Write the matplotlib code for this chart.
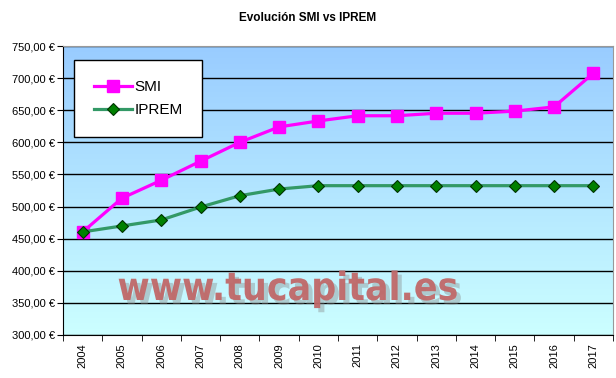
import matplotlib
matplotlib.use("Agg")
import matplotlib.pyplot as plt
import matplotlib.patheffects as pe
import numpy as np
from matplotlib.colors import LinearSegmentedColormap

years = ["2004", "2005", "2006", "2007", "2008", "2009", "2010",
         "2011", "2012", "2013", "2014", "2015", "2016", "2017"]
smi = [460.50, 513.00, 540.90, 570.60, 600.00, 624.00, 633.30,
       641.40, 641.40, 645.30, 645.30, 648.60, 655.20, 707.60]
iprem = [460.50, 469.80, 479.10, 499.20, 516.90, 527.24, 532.51,
         532.51, 532.51, 532.51, 532.51, 532.51, 532.51, 532.51]
yticks = [300, 350, 400, 450, 500, 550, 600, 650, 700, 750]

plt.rcParams['font.family'] = ['Liberation Sans', 'DejaVu Sans']

fig = plt.figure(figsize=(6.16, 3.78), dpi=100)
ax = fig.add_axes([63/616, 1-335/378, 550/616, 289/378])

x = np.arange(len(years))
ax.set_xlim(-0.5, len(years) - 0.5)
ax.set_ylim(300, 750)

# gradient background
cmap = LinearSegmentedColormap.from_list("bg", ["#CCFFFF", "#99CCFF"])
grad = np.linspace(0, 1, 256).reshape(-1, 1)
ax.imshow(grad, extent=[0, 1, 0, 1], transform=ax.transAxes, origin="lower",
          aspect="auto", cmap=cmap, zorder=0)

for yv in yticks:
    ax.axhline(yv, color="black", lw=1.0, zorder=1)

ax.plot(x, smi, color="#FF00FF", lw=2.3, marker="s", ms=9,
        mfc="#FF00FF", mec="#FF00FF", label="SMI", zorder=3)
ax.plot(x, iprem, color="#339966", lw=2.3, marker="D", ms=6.5,
        mfc="#008000", mec="#003300", mew=0.8, label="IPREM", zorder=3)

ax.set_yticks(yticks)
ax.set_yticklabels([f"{v:.2f}".replace(".", ",") + " €" for v in yticks], fontsize=8)
ax.set_xticks(x)
ax.set_xticklabels(years, rotation=90, fontsize=8)
ax.tick_params(axis="x", which="major", length=0, pad=6)
ax.set_xticks(np.arange(-0.5, len(years) + 0.5, 1), minor=True)
ax.tick_params(axis="x", which="minor", length=4, direction="out")
ax.tick_params(axis="y", length=4, direction="out", pad=2)
for s in ax.spines.values():
    s.set_color("black")
    s.set_linewidth(0.8)
ax.spines["top"].set_color("#999999")
ax.spines["right"].set_color("#999999")

leg = ax.legend(loc="upper left", bbox_to_anchor=(11/550, 1-14/289), fontsize=11,
                frameon=True, fancybox=False, edgecolor="black", framealpha=1,
                borderpad=1.3, labelspacing=0.6, handlelength=2.5, handletextpad=0.15,
                borderaxespad=0)
leg.get_frame().set_linewidth(1.0)

ax.text((288-63)/550, (335-300)/289, "www.tucapital.es", transform=ax.transAxes,
        ha="center", va="baseline",
        fontsize=28, fontweight="bold", fontstretch="condensed", color="#C06868",
        alpha=0.95, zorder=2, family="DejaVu Sans",
        path_effects=[pe.withSimplePatchShadow(offset=(3, -3), shadow_rgbFace="#888888", alpha=0.4)])

fig.text(0.5, 1-18/378, "Evolución SMI vs IPREM", ha="center", va="center",
         fontsize=8.5, fontweight="bold")

fig.savefig("out.png", dpi=100)
